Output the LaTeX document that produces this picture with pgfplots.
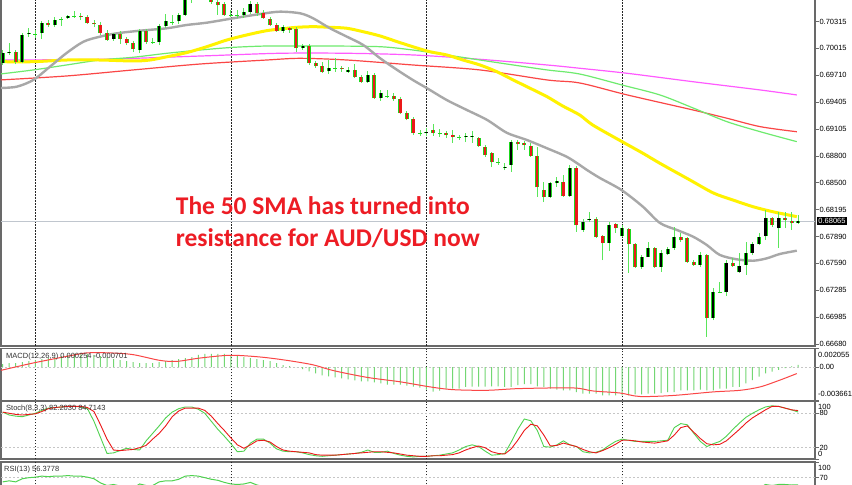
\documentclass[border=0pt]{standalone}
\usepackage{fontspec}
\setmainfont{Liberation Sans}
\newfontfamily\annfont{Carlito}
\usepackage{pgfplots}
\usepackage{pgfplotstable}
\pgfplotsset{compat=1.18}

\definecolor{cgreen}{RGB}{30,215,30}
\definecolor{wick}{RGB}{90,230,90}
\definecolor{cred}{RGB}{235,25,25}
\definecolor{magray}{RGB}{168,168,168}
\definecolor{mayel}{RGB}{255,242,0}
\definecolor{magrn}{RGB}{110,235,110}
\definecolor{mamag}{RGB}{255,90,255}
\definecolor{mared}{RGB}{250,70,70}
\definecolor{frame}{RGB}{105,105,105}
\definecolor{anntxt}{RGB}{237,28,36}
\definecolor{pline}{RGB}{192,198,206}
\definecolor{hist}{RGB}{115,215,115}
\definecolor{kline}{RGB}{80,210,80}
\newcommand\mtfont{\fontsize{7.5bp}{8bp}\selectfont}

% candles: index, open, high, low, close
\pgfplotstableread{
i o h l c
0 0.69849 0.69996 0.69827 0.69962
1 0.69962 0.70075 0.69940 0.69973
2 0.69973 0.69996 0.69838 0.69861
3 0.69861 0.70188 0.69849 0.70165
4 0.70177 0.70244 0.70143 0.70188
5 0.70177 0.70222 0.70131 0.70177
6 0.70188 0.70323 0.70120 0.70301
7 0.70301 0.70334 0.70255 0.70278
8 0.70278 0.70368 0.70255 0.70334
9 0.70346 0.70368 0.70267 0.70346
10 0.70357 0.70391 0.70346 0.70380
11 0.70380 0.70436 0.70357 0.70380
12 0.70380 0.70413 0.70334 0.70368
13 0.70368 0.70391 0.70289 0.70301
14 0.70301 0.70334 0.70255 0.70289
15 0.70278 0.70312 0.70165 0.70188
16 0.70188 0.70222 0.70098 0.70109
17 0.70120 0.70188 0.70098 0.70177
18 0.70177 0.70210 0.70064 0.70120
19 0.70120 0.70143 0.70052 0.70075
20 0.70075 0.70098 0.69973 0.70007
21 0.69996 0.70233 0.69962 0.70210
22 0.70210 0.70233 0.70064 0.70086
23 0.70086 0.70131 0.70064 0.70086
24 0.70086 0.70289 0.70052 0.70267
25 0.70267 0.70402 0.70244 0.70323
26 0.70312 0.70391 0.70278 0.70312
27 0.70323 0.70413 0.70289 0.70391
28 0.70391 0.70650 0.70380 0.70594
29 0.70594 0.70718 0.70526 0.70673
30 0.70673 0.70740 0.70583 0.70695
31 0.70695 0.70729 0.70583 0.70628
32 0.70628 0.70662 0.70515 0.70537
33 0.70537 0.70571 0.70391 0.70504
34 0.70515 0.70537 0.70380 0.70391
35 0.70391 0.70447 0.70368 0.70391
36 0.70391 0.70447 0.70357 0.70391
37 0.70391 0.70470 0.70357 0.70425
38 0.70425 0.70549 0.70402 0.70515
39 0.70515 0.70537 0.70380 0.70413
40 0.70413 0.70447 0.70346 0.70357
41 0.70346 0.70368 0.70267 0.70278
42 0.70278 0.70301 0.70199 0.70210
43 0.70210 0.70278 0.70188 0.70255
44 0.70244 0.70255 0.70188 0.70222
45 0.70233 0.70255 0.69973 0.70019
46 0.70019 0.70064 0.69996 0.70041
47 0.70041 0.70064 0.69827 0.69849
48 0.69849 0.69872 0.69793 0.69815
49 0.69815 0.69861 0.69737 0.69748
50 0.69759 0.69883 0.69725 0.69793
51 0.69793 0.69906 0.69748 0.69793
52 0.69793 0.69815 0.69748 0.69782
53 0.69748 0.69804 0.69737 0.69770
54 0.69770 0.69838 0.69680 0.69691
55 0.69691 0.69714 0.69624 0.69635
56 0.69635 0.69759 0.69624 0.69714
57 0.69714 0.69737 0.69443 0.69455
58 0.69455 0.69545 0.69421 0.69511
59 0.69477 0.69545 0.69455 0.69477
60 0.69477 0.69511 0.69421 0.69443
61 0.69443 0.69466 0.69274 0.69285
62 0.69285 0.69308 0.69206 0.69218
63 0.69218 0.69240 0.69037 0.69060
64 0.69060 0.69094 0.69026 0.69060
65 0.69060 0.69116 0.69026 0.69071
66 0.69094 0.69161 0.69026 0.69060
67 0.69060 0.69105 0.69015 0.69060
68 0.69060 0.69082 0.69003 0.69037
69 0.69037 0.69094 0.68947 0.69015
70 0.69015 0.69037 0.68981 0.69015
71 0.69015 0.69060 0.68958 0.69026
72 0.69015 0.69082 0.68947 0.69026
73 0.69003 0.69015 0.68902 0.68913
74 0.68902 0.68924 0.68789 0.68812
75 0.68834 0.68845 0.68676 0.68733
76 0.68733 0.68778 0.68699 0.68733
77 0.68665 0.68721 0.68642 0.68676
78 0.68699 0.68981 0.68620 0.68958
79 0.68958 0.68981 0.68868 0.68936
80 0.68947 0.68970 0.68868 0.68924
81 0.68913 0.68947 0.68789 0.68800
82 0.68800 0.68902 0.68338 0.68451
83 0.68417 0.68507 0.68281 0.68338
84 0.68338 0.68507 0.68327 0.68496
85 0.68496 0.68563 0.68451 0.68518
86 0.68507 0.68586 0.68338 0.68349
87 0.68349 0.68699 0.68338 0.68665
88 0.68665 0.68688 0.67943 0.68022
89 0.67966 0.68090 0.67943 0.68056
90 0.68078 0.68169 0.68056 0.68090
91 0.68090 0.68112 0.67875 0.67887
92 0.67898 0.67909 0.67627 0.67819
93 0.67819 0.68056 0.67729 0.68022
94 0.68033 0.68045 0.67932 0.67988
95 0.67898 0.68022 0.67887 0.67988
96 0.67977 0.67988 0.67481 0.67808
97 0.67808 0.67819 0.67537 0.67548
98 0.67548 0.67684 0.67526 0.67661
99 0.67661 0.67830 0.67661 0.67763
100 0.67763 0.67774 0.67537 0.67548
101 0.67548 0.67740 0.67492 0.67706
102 0.67695 0.67774 0.67684 0.67751
103 0.67763 0.67999 0.67740 0.67887
104 0.67887 0.67932 0.67830 0.67853
105 0.67875 0.67887 0.67593 0.67605
106 0.67605 0.67627 0.67560 0.67571
107 0.67571 0.67717 0.67548 0.67684
108 0.67684 0.67695 0.66759 0.66973
109 0.66973 0.67311 0.66950 0.67266
110 0.67266 0.67379 0.67255 0.67266
111 0.67266 0.67627 0.67221 0.67593
112 0.67593 0.67650 0.67548 0.67560
113 0.67492 0.67706 0.67481 0.67560
114 0.67571 0.67830 0.67458 0.67706
115 0.67706 0.67830 0.67684 0.67808
116 0.67808 0.67932 0.67796 0.67887
117 0.67898 0.68191 0.67853 0.68101
118 0.68101 0.68112 0.67999 0.68022
119 0.67988 0.68169 0.67763 0.68101
120 0.68101 0.68169 0.67988 0.68078
121 0.68067 0.68169 0.67966 0.68045
122 0.68045 0.68135 0.68033 0.68065
}\candles

% oscillators: MACD main, Stoch %K, %D, RSI
\pgfplotstableread{
i macd k d rsi
0 0.00034 82 82 62
1 0.00045 77 80 64
2 0.00045 75 78 62
3 0.00056 74 77 68
4 0.00067 77 78 70
5 0.00078 80 79 71
6 0.00090 85 83 73
7 0.00101 89 88 72
8 0.00112 90 90 73
9 0.00123 91 91 73
10 0.00135 92 92 74
11 0.00146 92 92 73
12 0.00146 91 92 73
13 0.00146 88 90 71
14 0.00135 66 83 68
15 0.00123 38 60 60
16 0.00112 10 35 55
17 0.00090 11 16 57
18 0.00078 15 15 54
19 0.00067 19 16 52
20 0.00056 17 17 50
21 0.00045 16 20 58
22 0.00045 32 24 55
23 0.00045 45 35 55
24 0.00056 58 45 62
25 0.00067 72 58 64
26 0.00078 82 74 64
27 0.00090 88 84 67
28 0.00101 91 89 73
29 0.00112 91 89 74
30 0.00135 87 89 73
31 0.00146 80 85 70
32 0.00146 66 75 67
33 0.00146 52 62 65
34 0.00146 40 50 61
35 0.00135 27 37 58
36 0.00123 13 25 57
37 0.00112 14 19 58
38 0.00101 28 25 61
39 0.00090 35 32 56
40 0.00078 35 33 53
41 0.00067 28 30 49
42 0.00045 18 22 45
43 0.00022 14 16 47
44 0.00011 13 14 46
45 0.00000 13 13 38
46 -0.00022 11 12 40
47 -0.00045 8 11 34
48 -0.00067 6 8 33
49 -0.00090 5 7 31
50 -0.00101 6 7 34
51 -0.00112 7 7 34
52 -0.00123 8 8 34
53 -0.00135 9 9 33
54 -0.00146 10 10 31
55 -0.00157 12 11 29
56 -0.00157 16 12 33
57 -0.00168 12 13 26
58 -0.00179 12 13 29
59 -0.00191 14 12 28
60 -0.00191 10 11 27
61 -0.00191 7 9 23
62 -0.00202 5 7 22
63 -0.00213 4 6 19
64 -0.00224 5 5 20
65 -0.00247 5 5 21
66 -0.00269 6 6 20
67 -0.00258 7 6 20
68 -0.00235 9 7 20
69 -0.00235 11 8 20
70 -0.00235 16 11 20
71 -0.00217 22 16 21
72 -0.00213 25 20 21
73 -0.00213 22 23 19
74 -0.00213 14 20 17
75 -0.00210 7 13 16
76 -0.00210 8 10 17
77 -0.00217 10 9 17
78 -0.00217 30 18 33
79 -0.00198 52 33 32
80 -0.00187 70 50 32
81 -0.00187 67 61 28
82 -0.00210 50 58 22
83 -0.00217 22 42 21
84 -0.00235 21 23 27
85 -0.00247 25 24 28
86 -0.00254 32 28 25
87 -0.00254 25 25 36
88 -0.00274 22 22 24
89 -0.00291 13 17 28
90 -0.00291 11 13 29
91 -0.00291 12 11 25
92 -0.00311 16 15 26
93 -0.00311 24 20 32
94 -0.00311 31 26 31
95 -0.00311 35 33 31
96 -0.00311 33 33 29
97 -0.00299 31 32 25
98 -0.00299 31 30 29
99 -0.00291 31 29 32
100 -0.00291 31 28 28
101 -0.00285 32 30 32
102 -0.00274 33 32 33
103 -0.00274 55 42 37
104 -0.00254 62 55 36
105 -0.00254 60 58 31
106 -0.00254 45 47 31
107 -0.00247 31 36 34
108 -0.00254 22 27 22
109 -0.00254 27 25 31
110 -0.00235 31 26 31
111 -0.00235 40 32 40
112 -0.00217 52 42 40
113 -0.00217 63 52 40
114 -0.00179 73 63 44
115 -0.00142 80 72 47
116 -0.00104 86 79 50
117 -0.00067 91 86 57
118 -0.00048 93 92 55
119 -0.00030 92 92 57
120 -0.00011 89 89 57
121 0.00008 86 86 56
122 0.00025 82.2 84.7 56.4
}\osc

\pgfplotsset{
  mtpanel/.style={
    scale only axis, width=814bp, xmin=-0.26, xmax=124.59,
    anchor=south west, clip mode=individual, scaled y ticks=false,
    axis line style={draw=frame, line width=1.4bp},
    xtick=\empty,
    extra x ticks={5,35,65,95}, extra x tick labels={},
    extra x tick style={grid=major, major tick length=0pt,
      major grid style={black!85, line width=0.6bp, dash pattern=on 1.5bp off 1.5bp}},
    ytick pos=right, yticklabel pos=right, tick align=outside,
    major tick length=3.5bp,
    y tick style={draw=frame, line width=0.7bp},
    yticklabel style={font=\mtfont, anchor=west, inner sep=0.8bp, text=black},
  },
  candle/.style n args={2}{draw=none, mark=none, forget plot, unbounded coords=discard,
    error bars/.cd, y dir=plus, y explicit, error mark=none,
    error bar style={draw=#1, line width=#2}},
}

\begin{document}
\begin{tikzpicture}
\fill[white] (0,0) rectangle (852bp,485bp);

% price panel
\begin{axis}[mtpanel, at={(1bp,139bp)}, height=366bp,
  ymin=0.666571, ymax=0.707856,
  ytick={0.70315,0.70015,0.69710,0.69405,0.69105,0.68800,0.68500,0.68195,0.67890,0.67590,0.67285,0.66985,0.66680},
  yticklabels={0.70315,0.70015,0.69710,0.69405,0.69105,0.68800,0.68500,0.68195,0.67890,0.67590,0.67285,0.66985,0.66680}]
\addplot[pline, line width=1bp] coordinates {(-0.26,0.68065) (124.59,0.68065)};
% moving averages
\addplot[mamag, line width=1.2bp, smooth] coordinates {
  (-0.4,0.69883) (14.9,0.69891) (30.3,0.69928) (42.5,0.69959) (52.8,0.69959)
  (62.9,0.69940) (73.2,0.69891) (83.5,0.69827) (88.5,0.69790) (95.8,0.69733)
  (105.9,0.69638) (116.2,0.69545) (121.8,0.69489)};
\addplot[mared, line width=1.2bp, smooth] coordinates {
  (-0.4,0.69658) (9.8,0.69703) (20,0.69771) (30.3,0.69838) (40.5,0.69883)
  (45.6,0.69902) (52.8,0.69883) (62.9,0.69827) (73.2,0.69771) (83.5,0.69658)
  (88.5,0.69624) (95.8,0.69489) (105.9,0.69319) (111.1,0.69226) (116.2,0.69131)
  (121.8,0.69074)};
\addplot[magrn, line width=1.2bp, smooth] coordinates {
  (-0.4,0.69725) (4.7,0.69771) (9.8,0.69827) (14.9,0.69883) (20,0.69914)
  (25.2,0.69959) (30.3,0.69996) (35.4,0.70026) (40.5,0.70041) (45.6,0.70041)
  (50.2,0.70041) (57.9,0.70033) (62.9,0.69996) (68.1,0.69940) (73.2,0.69883)
  (78.3,0.69827) (83.5,0.69771) (88.5,0.69725) (95,0.69601) (100.8,0.69489)
  (105.9,0.69342) (111.1,0.69187) (116.2,0.69074) (121.8,0.68962)};
\addplot[mayel, line width=3bp, smooth] coordinates {
  (-0.4,0.69864) (4.7,0.69864) (9.8,0.69883) (14.9,0.69883) (20.0,0.69872)
  (22.6,0.69883) (25.2,0.69920) (28.2,0.69966) (31.3,0.70033) (34.4,0.70109)
  (37.4,0.70165) (40.5,0.70214) (43.6,0.70241) (45.1,0.70252) (47.6,0.70259)
  (50.2,0.70252) (52.8,0.70241) (55.3,0.70202) (57.9,0.70154) (60.5,0.70090)
  (62.9,0.70033) (65.5,0.69977) (68.1,0.69940) (70.6,0.69883) (73.2,0.69827)
  (75.8,0.69751) (78.3,0.69658) (80.9,0.69564) (83.5,0.69469) (85.9,0.69364)
  (88.5,0.69263) (90.5,0.69150) (95,0.68962) (98.2,0.68831) (100.8,0.68718)
  (105.4,0.68530) (109.0,0.68383) (112.0,0.68304) (115.1,0.68228)
  (118.1,0.68172) (121.8,0.68116)};
\addplot[magray, line width=2.4bp, smooth] coordinates {
  (-0.4,0.69567) (2.15,0.69582) (4.7,0.69658) (7.25,0.69808) (9.8,0.69962)
  (12.4,0.70090) (14.9,0.70146) (17.5,0.70184) (21.1,0.70214) (25.2,0.70241)
  (28.2,0.70278) (31.3,0.70304) (35.4,0.70354) (39.5,0.70402) (42.5,0.70428)
  (45.6,0.70410) (47.6,0.70354) (50.2,0.70241) (52.8,0.70146) (55.3,0.70052)
  (57.9,0.69902) (60.5,0.69771) (62.9,0.69658) (65.1,0.69564) (68.1,0.69432)
  (71.2,0.69319) (74.3,0.69207) (77.3,0.69063) (80.4,0.68981) (83.5,0.68887)
  (86.5,0.68792) (88.5,0.68699) (89.6,0.68643) (91.6,0.68552) (94.9,0.68417)
  (98.2,0.68228) (100.8,0.68045) (103.4,0.67966) (105.9,0.67890) (108.0,0.67796)
  (110.0,0.67684) (112.6,0.67635) (115.1,0.67619) (117.2,0.67646) (119.2,0.67695)
  (121.8,0.67732)};
% candles: wicks, green outline, black (up) or red (down) body
\addplot[candle={wick}{0.9bp}]
  table[x=i, y=l, y error expr=\thisrow{h}-\thisrow{l}] {\candles};
\addplot[candle={cgreen}{4bp}]
  table[x=i, y expr={min(\thisrow{o},\thisrow{c})-0.00004},
        y error expr={abs(\thisrow{c}-\thisrow{o})+0.00008}] {\candles};
\addplot[candle={black}{2.2bp}]
  table[x=i, y expr={\thisrow{c}>\thisrow{o} ? \thisrow{o}+0.00003 : nan},
        y error expr={max(\thisrow{c}-\thisrow{o}-0.00006,0)}] {\candles};
\addplot[candle={cred}{2.2bp}]
  table[x=i, y expr={\thisrow{c}<\thisrow{o} ? \thisrow{c}+0.00003 : nan},
        y error expr={max(\thisrow{o}-\thisrow{c}-0.00006,0)}] {\candles};
\node[anchor=west, fill=black, text=white, font=\mtfont, inner sep=1.2bp, xshift=2bp]
  at (axis cs:124.59,0.68065) {0.68065};
\end{axis}

% MACD panel
\begin{axis}[mtpanel, at={(1bp,84.5bp)}, height=52bp,
  ymin=-0.003661, ymax=0.002055,
  ytick={-0.003661,0,0.002055}, yticklabels={{},{0.00},{}}]
\addplot[gray!45, line width=0.6bp, dash pattern=on 2bp off 2bp] coordinates {(-0.26,0) (124.59,0)};
\addplot[ybar, bar width=1bp, fill=hist, draw=none] table[x=i, y=macd] {\osc};
\addplot[mared, line width=1bp, smooth] coordinates {
  (-0.4,-0.00037) (4.6,0.00045) (9.9,0.00120) (12.9,0.00157) (16.5,0.00157)
  (20,0.00138) (24.1,0.00075) (26.7,0.00064) (30.3,0.00101) (34.9,0.00131)
  (39.5,0.00112) (43.6,0.00075) (47.6,0.00026) (50.7,-0.00037) (55.9,-0.00112)
  (60.9,-0.00160) (65.5,-0.00216) (69.1,-0.00247) (74.3,-0.00254) (79.3,-0.00235)
  (87.5,-0.00228) (90.5,-0.00261) (94.7,-0.00284) (97.7,-0.00322) (102.8,-0.00311)
  (108.9,-0.00272) (113.1,-0.00254) (116.2,-0.00216) (119.2,-0.00142) (121.8,-0.00070)};
\node[anchor=north west, font=\mtfont, text=black!80, inner sep=0, xshift=5bp, yshift=-4bp]
  at (rel axis cs:0,1) {MACD(12,26,9) 0.000254 -0.000701};
\node[anchor=north west, font=\mtfont, inner sep=0, xshift=3bp, yshift=-4bp]
  at (rel axis cs:1,1) {0.002055};
\node[anchor=south west, font=\mtfont, inner sep=0, xshift=3bp, yshift=4bp]
  at (rel axis cs:1,0) {-0.003661};
\end{axis}

% Stochastic panel
\begin{axis}[mtpanel, at={(1bp,25.8bp)}, height=57.4bp,
  ymin=0, ymax=100, ytick={0,20,80,100}, yticklabels={{},{20},{80},{}}]
\addplot[gray!45, line width=0.6bp, dash pattern=on 2bp off 2bp] coordinates {(-0.26,80) (124.59,80)};
\addplot[gray!45, line width=0.6bp, dash pattern=on 2bp off 2bp] coordinates {(-0.26,20) (124.59,20)};
\addplot[kline, line width=0.9bp] table[x=i, y=k] {\osc};
\addplot[cred, line width=0.9bp] table[x=i, y=d] {\osc};
\node[anchor=north west, font=\mtfont, text=black!80, inner sep=0, xshift=5bp, yshift=-3bp]
  at (rel axis cs:0,1) {Stoch(8,3,3) 82.2030 84.7143};
\node[anchor=north west, font=\mtfont, inner sep=0, xshift=3bp, yshift=-2bp]
  at (rel axis cs:1,1) {100};
\node[anchor=south west, font=\mtfont, inner sep=0, xshift=3bp, yshift=2bp]
  at (rel axis cs:1,0) {0};
\end{axis}

% RSI panel
\begin{axis}[mtpanel, at={(1bp,-29.3bp)}, height=52.3bp,
  ymin=0, ymax=100, ytick={70,100}, yticklabels={{70},{}}]
\addplot[gray!45, line width=0.6bp, dash pattern=on 2bp off 2bp] coordinates {(-0.26,70) (124.59,70)};
\addplot[gray!45, line width=0.6bp, dash pattern=on 2bp off 2bp] coordinates {(-0.26,30) (124.59,30)};
\addplot[kline, line width=1bp] table[x=i, y=rsi] {\osc};
\node[anchor=north west, font=\mtfont, text=black!80, inner sep=0, xshift=3bp, yshift=-4bp]
  at (rel axis cs:0,1) {RSI(13) 56.3778};
\node[anchor=north west, font=\mtfont, inner sep=0, xshift=3bp, yshift=-3bp]
  at (rel axis cs:1,1) {100};
\end{axis}

\node[anchor=base west, inner sep=0, text=anntxt,
  font={\fontsize{25.5bp}{28bp}\annfont\bfseries}] at (175.7bp,270bp) {The 50 SMA has turned into};
\node[anchor=base west, inner sep=0, text=anntxt,
  font={\fontsize{25.5bp}{28bp}\annfont\bfseries}] at (175.7bp,238bp) {resistance for AUD/USD now};

\pgfresetboundingbox
\useasboundingbox (0,0) rectangle (852bp,485bp);
\end{tikzpicture}
\end{document}
